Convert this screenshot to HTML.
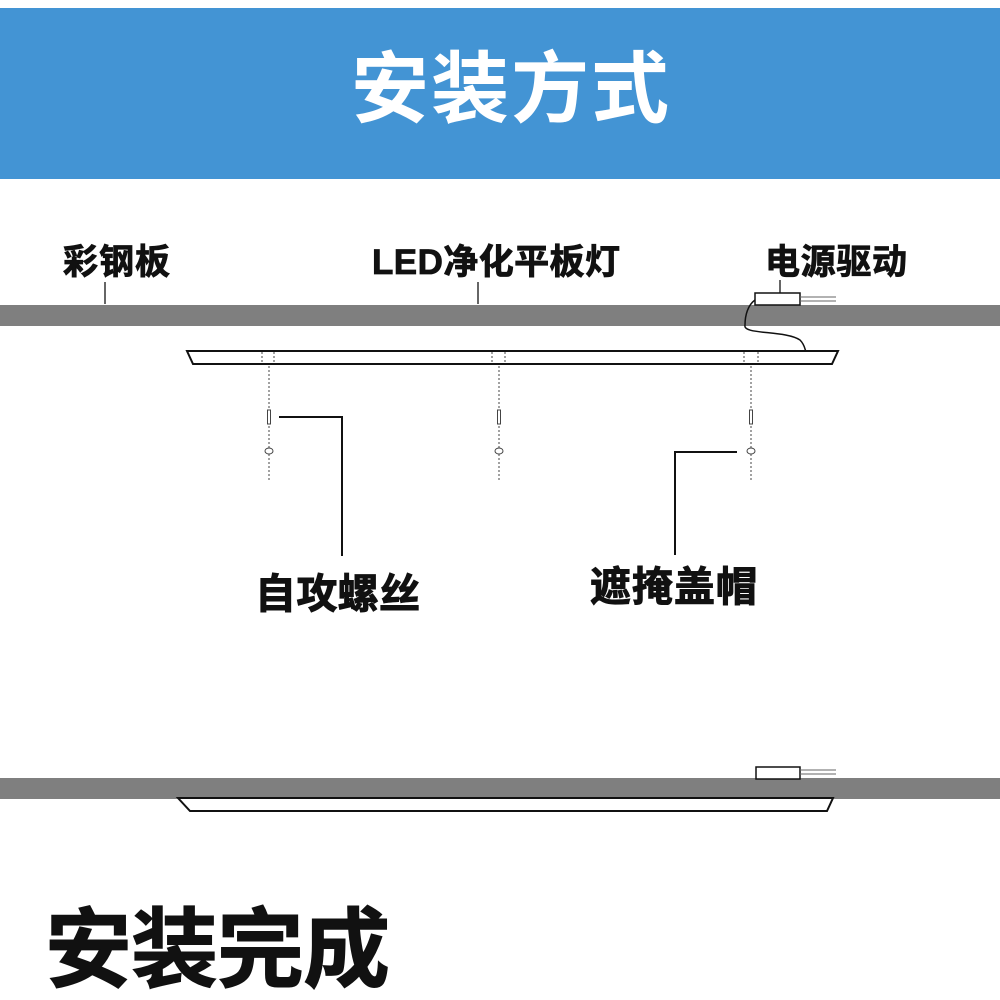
<!DOCTYPE html>
<html><head><meta charset="utf-8"><style>
html,body{margin:0;padding:0;background:#fff;}
svg{display:block}
text{font-family:"Liberation Sans","Noto Sans CJK SC",sans-serif;font-weight:bold;}
</style></head><body>
<svg width="1000" height="1000" viewBox="0 0 1000 1000" xmlns="http://www.w3.org/2000/svg">
<rect x="0" y="8" width="1000" height="171" fill="#4394d4"/>
<text x="511" y="116" font-size="78" fill="#fff" text-anchor="middle" letter-spacing="2">安装方式</text>

<g stroke="#111" stroke-width="0.8">
<text x="63" y="274" font-size="35" fill="#111" textLength="107">彩钢板</text>
<text x="372" y="274" font-size="35" fill="#111" textLength="248">LED净化平板灯</text>
<text x="765" y="274" font-size="35" fill="#111" textLength="142">电源驱动</text>
</g>
<line x1="105" y1="282" x2="105" y2="304" stroke="#333" stroke-width="1.5"/>
<line x1="478" y1="282" x2="478" y2="304" stroke="#333" stroke-width="1.5"/>
<line x1="780" y1="280" x2="780" y2="293" stroke="#333" stroke-width="1.5"/>

<rect x="0" y="305" width="1000" height="21" fill="#7f7f7f"/>
<rect x="755" y="293" width="45" height="12" fill="#fff" stroke="#111" stroke-width="1.5"/>
<line x1="800" y1="297" x2="836" y2="297" stroke="#666" stroke-width="1"/>
<line x1="800" y1="301" x2="836" y2="301" stroke="#666" stroke-width="1"/>
<path d="M755,300 C748,305 745,315 745,325 C742,335 785,330 800,340 C805,345 805,350 806,352" fill="none" stroke="#111" stroke-width="1.5"/>

<polygon points="187,351 838,351 832,364 193,364" fill="#fff" stroke="#111" stroke-width="2"/>
<g stroke="#444" stroke-width="1" stroke-dasharray="2,2">
<line x1="262" y1="352" x2="262" y2="364"/><line x1="274" y1="352" x2="274" y2="364"/>
<line x1="492" y1="352" x2="492" y2="364"/><line x1="505" y1="352" x2="505" y2="364"/>
<line x1="744" y1="352" x2="744" y2="364"/><line x1="758" y1="352" x2="758" y2="364"/>
<line x1="269" y1="366" x2="269" y2="482"/>
<line x1="499" y1="366" x2="499" y2="482"/>
<line x1="751" y1="366" x2="751" y2="482"/>
</g>
<g fill="#fff" stroke="#444" stroke-width="1">
<rect x="267.5" y="410" width="3" height="14"/><rect x="497.5" y="410" width="3" height="14"/><rect x="749.5" y="410" width="3" height="14"/>
<ellipse cx="269" cy="451" rx="4" ry="3"/><ellipse cx="499" cy="451" rx="4" ry="3"/><ellipse cx="751" cy="451" rx="4" ry="3"/>
</g>
<polyline points="279,417 342,417 342,556" fill="none" stroke="#111" stroke-width="2"/>
<polyline points="737,452 675,452 675,555" fill="none" stroke="#111" stroke-width="2"/>
<g stroke="#111" stroke-width="1">
<text x="255" y="608" font-size="41" fill="#111" textLength="165">自攻螺丝</text>
<text x="590" y="601" font-size="41" fill="#111" textLength="167">遮掩盖帽</text>
</g>

<rect x="0" y="778" width="1000" height="21" fill="#7f7f7f"/>
<rect x="756" y="767" width="44" height="12" fill="#fff" stroke="#111" stroke-width="1.5"/>
<line x1="800" y1="770" x2="836" y2="770" stroke="#666" stroke-width="1"/>
<line x1="800" y1="774" x2="836" y2="774" stroke="#666" stroke-width="1"/>
<polygon points="178,798 833,798 827,811 190,811" fill="#fff" stroke="#111" stroke-width="2"/>

<text x="45" y="980" font-size="87" fill="#111" stroke="#111" stroke-width="1" textLength="345">安装完成</text>
</svg>
</body></html>
